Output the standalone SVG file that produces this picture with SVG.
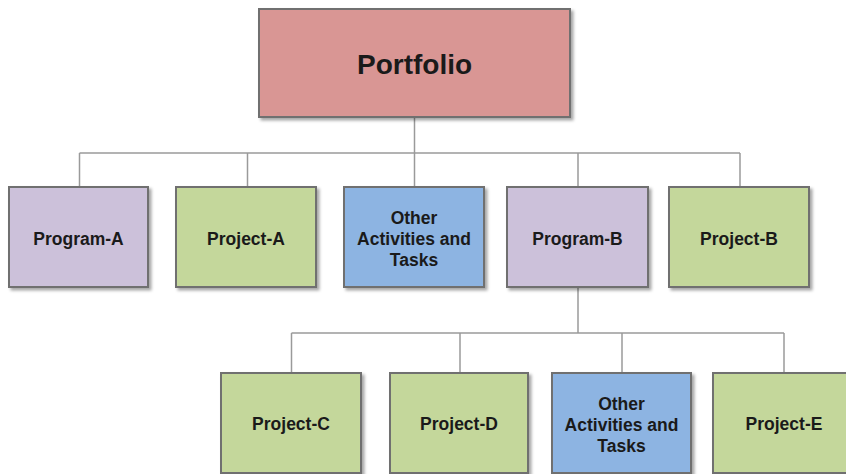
<svg xmlns="http://www.w3.org/2000/svg" width="846" height="474" viewBox="0 0 846 474">
<defs>
<filter id="sh" x="-10%" y="-10%" width="130%" height="130%">
<feDropShadow dx="2.5" dy="2.5" stdDeviation="1.5" flood-color="#000" flood-opacity="0.35"/>
</filter>
</defs>
<style>
.box{stroke:#707070;stroke-width:2;filter:url(#sh)}
.pf{fill:#d99694}
.pg{fill:#ccc1da}
.pj{fill:#c4d79b}
.ot{fill:#8db4e2}
.t{font-family:"Liberation Sans",Arial,sans-serif;font-weight:bold;font-size:17.5px;fill:#1a1a1a;text-anchor:middle}
.tb{font-size:28px}
.ln{fill:none;stroke:#9a9a9a;stroke-width:1.5}
</style>
<rect width="846" height="474" fill="#fff"/>
<g id="connectors">
<path class="ln" d="M414.5 117V153M79.5 153H740M79.5 153V187M247.5 153V187M414.5 153V187M578 153V187M740 153V187"/>
<path class="ln" d="M578 287V333M291.5 333H784M291.5 333V373M460 333V373M622 333V373M784 333V373"/>
</g>
<g id="portfolio"><rect class="box pf" x="259" y="9" width="311" height="108"/><text class="t tb" x="414.5" y="74">Portfolio</text></g>
<g id="program-a"><rect class="box pg" x="9" y="187" width="139" height="100"/><text class="t" x="78.5" y="244.5">Program-A</text></g>
<g id="project-a"><rect class="box pj" x="176" y="187" width="140" height="100"/><text class="t" x="246" y="244.5">Project-A</text></g>
<g id="other-1"><rect class="box ot" x="344" y="187" width="140" height="100"/><text class="t" x="414" y="223.5">Other<tspan x="414" y="244.5">Activities and</tspan><tspan x="414" y="265.5">Tasks</tspan></text></g>
<g id="program-b"><rect class="box pg" x="507" y="187" width="141" height="100"/><text class="t" x="577.5" y="244.5">Program-B</text></g>
<g id="project-b"><rect class="box pj" x="669" y="187" width="140" height="100"/><text class="t" x="739" y="244.5">Project-B</text></g>
<g id="project-c"><rect class="box pj" x="221" y="373" width="140" height="100"/><text class="t" x="291" y="430">Project-C</text></g>
<g id="project-d"><rect class="box pj" x="390" y="373" width="138" height="100"/><text class="t" x="459" y="430">Project-D</text></g>
<g id="other-2"><rect class="box ot" x="552" y="373" width="139" height="100"/><text class="t" x="621.5" y="410">Other<tspan x="621.5" y="430.5">Activities and</tspan><tspan x="621.5" y="451.5">Tasks</tspan></text></g>
<g id="project-e"><rect class="box pj" x="713" y="373" width="142" height="100"/><text class="t" x="784" y="430">Project-E</text></g>
</svg>
